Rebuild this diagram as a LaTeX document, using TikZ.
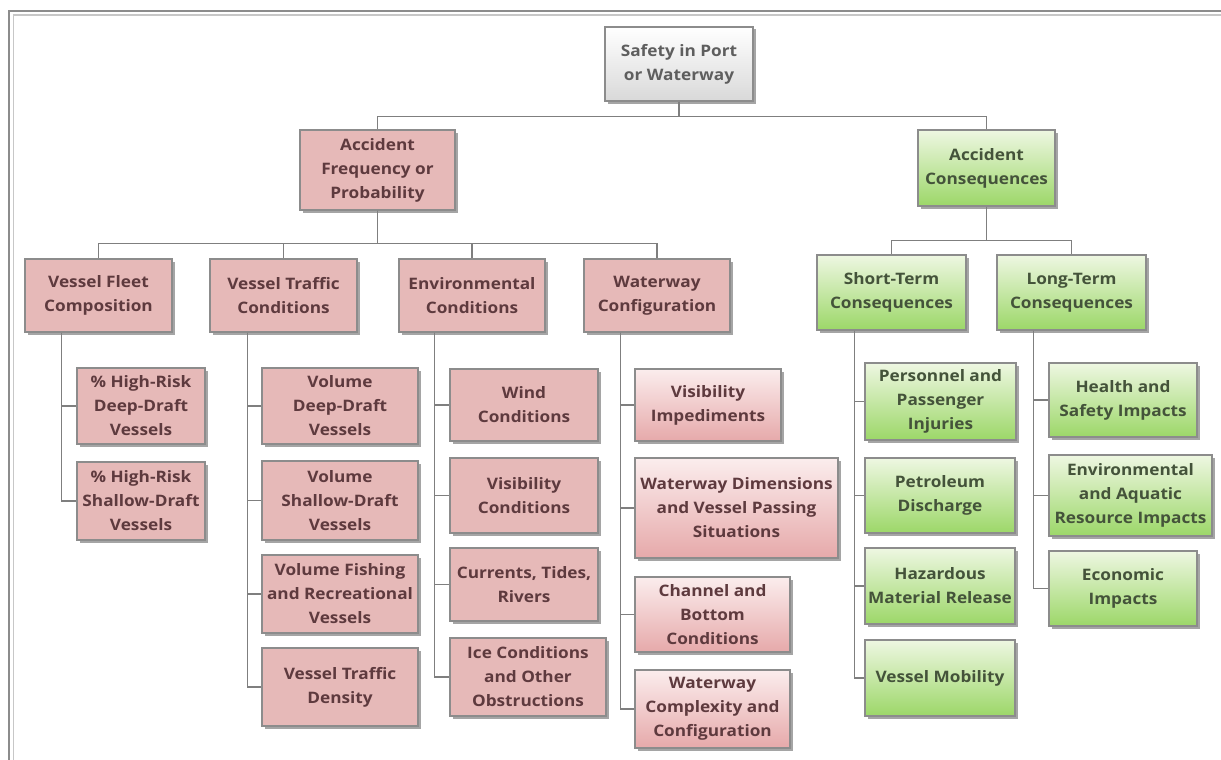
\documentclass[tikz,border=0pt]{standalone}
\usepackage{fontspec}
\setmainfont{Open Sans}[FakeStretch=1.09]
\usetikzlibrary{shadows}

\definecolor{pinkfill}{HTML}{E6B9B8}
\definecolor{pinktop}{HTML}{FBEDED}
\definecolor{pinkbot}{HTML}{E6A9AA}
\definecolor{greentop}{HTML}{EEF7E2}
\definecolor{greenbot}{HTML}{9CD768}
\definecolor{pinktext}{HTML}{5E3A3E}
\definecolor{greentext}{HTML}{44533A}
\definecolor{graytext}{HTML}{5E5E5E}
\definecolor{linkgray}{HTML}{7F7F7F}

\tikzset{
  basebox/.style={rectangle, draw=black!45, line width=1.1pt, inner sep=0pt,
    align=center, font=\fontsize{15.8}{24}\selectfont\bfseries,
    drop shadow={shadow xshift=2.5pt, shadow yshift=-2.5pt, fill=black!50, opacity=0.7}},
  rootbox/.style={basebox, top color=white, bottom color=black!15, text=graytext},
  pinkbox/.style={basebox, fill=pinkfill, text=pinktext},
  pinkgrad/.style={basebox, top color=pinktop, bottom color=pinkbot, text=pinktext},
  greenbox/.style={basebox, top color=greentop, bottom color=greenbot, text=greentext},
  link/.style={draw=linkgray, line width=1.4pt}
}

% \mkbox{name}{style}{left}{top}{right}{bottom}{text}
\newcommand\mkbox[7]{%
  \node[#2, minimum width={#5-#3}, minimum height={#6-#4}]
    (#1) at ({(#3+#5)/2},{(#4+#6)/2}) {#7};}

\begin{document}
\begin{tikzpicture}[x=1pt, y=-1pt]
\useasboundingbox (0,0) rectangle (1221,760);
\fill[white] (0,0) rectangle (1221,760);

% window frame
\draw[black!45, line width=2pt] (9,760) -- (9,11) -- (1221,11);
\draw[black!22, line width=1.6pt] (13.5,760) -- (13.5,15) -- (1221,15);

% root
\mkbox{root}{rootbox}{605}{27}{753}{101}{Safety in Port\\or Waterway}

% first level
\mkbox{freq}{pinkbox}{300}{130}{455}{210}{Accident\\Frequency or\\Probability}
\mkbox{cons}{greenbox}{918}{130}{1055}{206}{Accident\\Consequences}

% second level
\mkbox{fleet}{pinkbox}{25}{259}{172}{332}{Vessel Fleet\\Composition}
\mkbox{traffic}{pinkbox}{210}{259}{357}{332}{Vessel Traffic\\Conditions}
\mkbox{envc}{pinkbox}{399}{259}{545}{332}{Environmental\\Conditions}
\mkbox{wayc}{pinkbox}{584}{259}{730}{332}{Waterway\\Configuration}
\mkbox{short}{greenbox}{817}{255}{966}{330}{Short-Term\\Consequences}
\mkbox{long}{greenbox}{997}{255}{1146}{330}{Long-Term\\Consequences}

% vessel fleet composition
\mkbox{fa}{pinkbox}{77}{368}{205}{444}{\% High-Risk\\Deep-Draft\\Vessels}
\mkbox{fb}{pinkbox}{77}{462}{205}{540}{\% High-Risk\\Shallow-Draft\\Vessels}

% vessel traffic conditions
\mkbox{ta}{pinkbox}{262}{368}{418}{444}{Volume\\Deep-Draft\\Vessels}
\mkbox{tb}{pinkbox}{262}{461}{418}{540}{Volume\\Shallow-Draft\\Vessels}
\mkbox{tc}{pinkbox}{262}{555}{418}{633}{Volume Fishing\\and Recreational\\Vessels}
\mkbox{td}{pinkbox}{262}{648}{418}{726}{Vessel Traffic\\Density}

% environmental conditions
\mkbox{ea}{pinkbox}{450}{369}{598}{441}{Wind\\Conditions}
\mkbox{eb}{pinkbox}{450}{458}{598}{533}{Visibility\\Conditions}
\mkbox{ec}{pinkbox}{450}{548}{598}{621}{Currents, Tides,\\Rivers}
\mkbox{ed}{pinkbox}{450}{638}{606}{716}{Ice Conditions\\and Other\\Obstructions}

% waterway configuration
\mkbox{wa}{pinkgrad}{635}{369}{781}{441}{Visibility\\Impediments}
\mkbox{wb}{pinkgrad}{635}{458}{838}{558}{Waterway Dimensions\\and Vessel Passing\\Situations}
\mkbox{wc}{pinkgrad}{635}{577}{790}{652}{Channel and\\Bottom\\Conditions}
\mkbox{wd}{pinkgrad}{635}{670}{790}{748}{Waterway\\Complexity and\\Configuration}

% short-term consequences
\mkbox{sa}{greenbox}{865}{363}{1016}{440}{Personnel and\\Passenger\\Injuries}
\mkbox{sb}{greenbox}{865}{458}{1015}{533}{Petroleum\\Discharge}
\mkbox{sc}{greenbox}{865}{548}{1015}{624}{Hazardous\\Material Release}
\mkbox{sd}{greenbox}{865}{640}{1015}{716}{Vessel Mobility}

% long-term consequences
\mkbox{la}{greenbox}{1049}{363}{1197}{437}{Health and\\Safety Impacts}
\mkbox{lb}{greenbox}{1049}{455}{1212}{536}{Environmental\\and Aquatic\\Resource Impacts}
\mkbox{lc}{greenbox}{1049}{551}{1197}{626}{Economic\\Impacts}

% connectors
\draw[link] (root.south) -- ++(0,15) -| (freq.north);
\draw[link] (root.south) -- ++(0,15) -| (cons.north);

\foreach \c in {fleet,traffic,envc,wayc}
  \draw[link] (freq.south) -- ++(0,33) -| (\c.north);
\foreach \c in {short,long}
  \draw[link] (cons.south) -- ++(0,34) -| (\c.north);

\foreach \c in {fa,fb}
  \draw[link] ([xshift=37pt]fleet.south west) |- (\c.west);
\foreach \c in {ta,tb,tc,td}
  \draw[link] ([xshift=38pt]traffic.south west) |- (\c.west);
\foreach \c in {ea,eb,ec,ed}
  \draw[link] ([xshift=36pt]envc.south west) |- (\c.west);
\foreach \c in {wa,wb,wc,wd}
  \draw[link] ([xshift=37pt]wayc.south west) |- (\c.west);
\foreach \c in {sa,sb,sc,sd}
  \draw[link] ([xshift=38pt]short.south west) |- (\c.west);
\foreach \c in {la,lb,lc}
  \draw[link] ([xshift=37pt]long.south west) |- (\c.west);
\end{tikzpicture}
\end{document}
